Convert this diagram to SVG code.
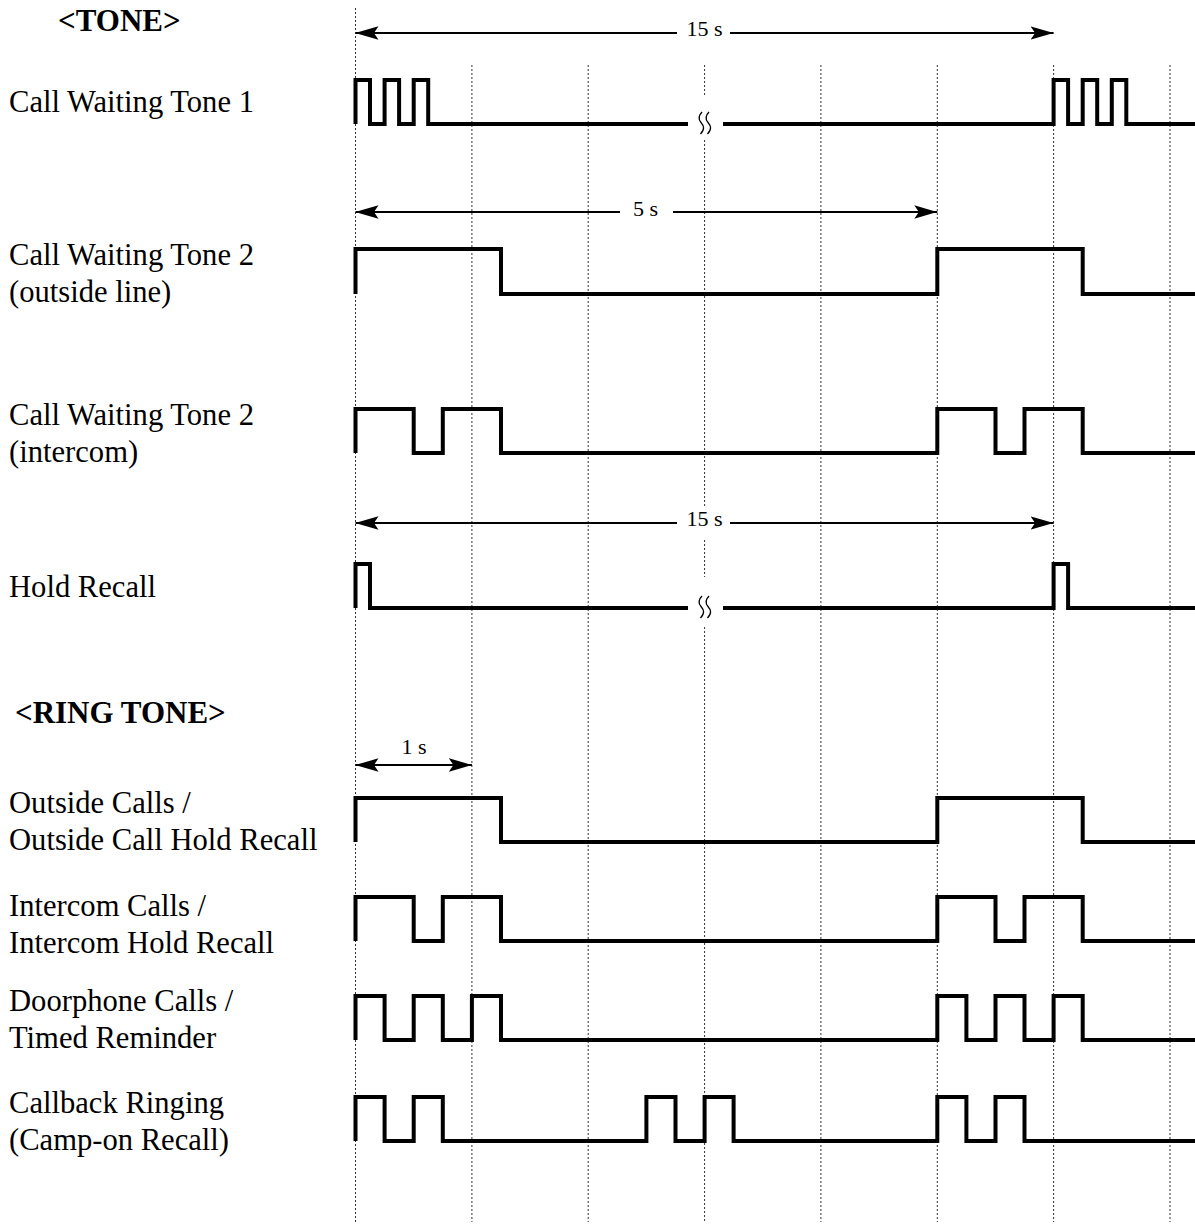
<svg xmlns="http://www.w3.org/2000/svg" width="1195" height="1225" viewBox="0 0 1195 1225">
<style>
.lbl{font-family:"Liberation Serif","Times New Roman",serif;font-size:30.6px;fill:#000}
.hd{font-family:"Liberation Serif","Times New Roman",serif;font-size:31px;font-weight:bold;fill:#000}
.dim{font-family:"Liberation Serif","Times New Roman",serif;font-size:22px;fill:#000;text-anchor:middle}
.grid{stroke:#333;stroke-width:1;stroke-dasharray:2 2;fill:none}
.sig{stroke:#000;stroke-width:4;fill:none;stroke-linejoin:miter}
.arr{stroke:#000;stroke-width:2.2;fill:none}
.brk{stroke:#000;stroke-width:1.3;fill:none}
</style>
<defs>
<marker id="ah" viewBox="0 0 23 14" refX="23" refY="7" markerWidth="23" markerHeight="14" markerUnits="userSpaceOnUse" orient="auto-start-reverse">
<path d="M23,7 L0,0.3 L4.5,7 L0,13.7 Z" fill="#000"/>
</marker>
</defs>
<rect width="1195" height="1225" fill="#fff"/>

<g id="grid">
<line class="grid" x1="355.5" y1="8" x2="355.5" y2="1222"/>
<line class="grid" x1="471.9" y1="65" x2="471.9" y2="1222"/>
<line class="grid" x1="588.2" y1="65" x2="588.2" y2="1222"/>
<path class="grid" d="M704.6,65 V95 M704.6,140 V507 M704.6,540 V577 M704.6,627 V1222"/>
<line class="grid" x1="820.9" y1="65" x2="820.9" y2="1222"/>
<line class="grid" x1="937.3" y1="65" x2="937.3" y2="1222"/>
<line class="grid" x1="1053.6" y1="65" x2="1053.6" y2="1222"/>
<line class="grid" x1="1170" y1="65" x2="1170" y2="1222"/>
</g>

<g id="labels">
<text class="hd" x="58" y="31">&lt;TONE&gt;</text>
<text class="lbl" x="9" y="112">Call Waiting Tone 1</text>
<text class="lbl" x="9" y="265">Call Waiting Tone 2</text>
<text class="lbl" x="9" y="302">(outside line)</text>
<text class="lbl" x="9" y="425">Call Waiting Tone 2</text>
<text class="lbl" x="9" y="462">(intercom)</text>
<text class="lbl" x="9" y="597">Hold Recall</text>
<text class="hd" x="15" y="723">&lt;RING TONE&gt;</text>
<text class="lbl" x="9" y="813">Outside Calls /</text>
<text class="lbl" x="9" y="850">Outside Call Hold Recall</text>
<text class="lbl" x="9" y="916">Intercom Calls /</text>
<text class="lbl" x="9" y="953">Intercom Hold Recall</text>
<text class="lbl" x="9" y="1011">Doorphone Calls /</text>
<text class="lbl" x="9" y="1048">Timed Reminder</text>
<text class="lbl" x="9" y="1113">Callback Ringing</text>
<text class="lbl" x="9" y="1150">(Camp-on Recall)</text>
</g>

<g id="connectors">
<g id="dim-15s-top">
<line class="arr" x1="355.5" y1="33" x2="677" y2="33" marker-start="url(#ah)"/>
<line class="arr" x1="730" y1="33" x2="1053.6" y2="33" marker-end="url(#ah)"/>
<text class="dim" x="704.5" y="36">15 s</text>
</g>
<g id="dim-5s">
<line class="arr" x1="355.5" y1="212" x2="620" y2="212" marker-start="url(#ah)"/>
<line class="arr" x1="673" y1="212" x2="937.3" y2="212" marker-end="url(#ah)"/>
<text class="dim" x="645.5" y="216">5 s</text>
</g>
<g id="dim-15s-hold">
<line class="arr" x1="355.5" y1="523" x2="677" y2="523" marker-start="url(#ah)"/>
<line class="arr" x1="730" y1="523" x2="1053.6" y2="523" marker-end="url(#ah)"/>
<text class="dim" x="704.5" y="526">15 s</text>
</g>
<g id="dim-1s">
<line class="arr" x1="355.5" y1="765" x2="471.9" y2="765" marker-start="url(#ah)" marker-end="url(#ah)"/>
<text class="dim" x="414" y="754">1 s</text>
</g>
</g>

<g id="signals">
<g id="cwt1">
<path class="sig" d="M355.5,124 V80 H370 V124 H384.6 V80 H399.1 V124 H413.7 V80 H428.2 V124 H688"/>
<path class="sig" d="M723,124 H1053.6 V80 H1068.1 V124 H1082.7 V80 H1097.2 V124 H1111.8 V80 H1126.3 V124 H1195"/>
<path class="brk" d="M702,112 C698,116 698,119 701,122.5 S705,129 700.5,134"/>
<path class="brk" d="M709,112 C705,116 705,119 708,122.5 S712,129 707.5,134"/>
</g>
<g id="cwt2-outside">
<path class="sig" d="M355.5,294 V249 H501 V294 H937.3 V249 H1082.7 V294 H1195"/>
</g>
<g id="cwt2-intercom">
<path class="sig" d="M355.5,453 V409 H413.7 V453 H442.8 V409 H501 V453 H937.3 V409 H995.5 V453 H1024.5 V409 H1082.7 V453 H1195"/>
</g>
<g id="hold-recall">
<path class="sig" d="M355.5,608 V564 H370 V608 H688"/>
<path class="sig" d="M723,608 H1053.6 V564 H1068.1 V608 H1195"/>
<path class="brk" d="M702,596 C698,600 698,603 701,606.5 S705,613 700.5,618"/>
<path class="brk" d="M709,596 C705,600 705,603 708,606.5 S712,613 707.5,618"/>
</g>
<g id="outside-calls">
<path class="sig" d="M355.5,842 V798 H501 V842 H937.3 V798 H1082.7 V842 H1195"/>
</g>
<g id="intercom-calls">
<path class="sig" d="M355.5,941 V897 H413.7 V941 H442.8 V897 H501 V941 H937.3 V897 H995.5 V941 H1024.5 V897 H1082.7 V941 H1195"/>
</g>
<g id="doorphone">
<path class="sig" d="M355.5,1040 V996 H384.6 V1040 H413.7 V996 H442.8 V1040 H471.9 V996 H501 V1040 H937.3 V996 H966.4 V1040 H995.5 V996 H1024.5 V1040 H1053.6 V996 H1082.7 V1040 H1195"/>
</g>
<g id="callback">
<path class="sig" d="M355.5,1141 V1097 H384.6 V1141 H413.7 V1097 H442.8 V1141 H646.4 V1097 H675.5 V1141 H704.6 V1097 H733.6 V1141 H937.3 V1097 H966.4 V1141 H995.5 V1097 H1024.5 V1141 H1195"/>
</g>
</g>
</svg>
